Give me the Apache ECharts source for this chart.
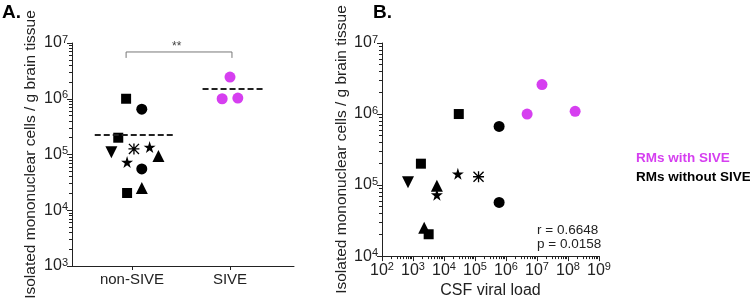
<!DOCTYPE html>
<html>
<head>
<meta charset="utf-8">
<script src="https://cdn.jsdelivr.net/npm/echarts@6/dist/echarts.min.js"></script>
<style>
  html, body { margin: 0; padding: 0; background: #fff; }
  #chart { width: 750px; height: 304px; }
</style>
</head>
<body>
<div id="chart"></div>
<script>
// panel A: cells per g brain tissue, grouped by SIVE status (x = jittered group position)
var groupNames = ['non-SIVE', 'SIVE'];
var nonSiveShape = ['rect', 'circle', 'rect', 'triDown', 'asterisk', 'star', 'triangle', 'star', 'circle', 'triangle', 'rect'];
var nonSiveX = [0.94, 1.10, 0.86, 0.79, 1.02, 1.18, 1.27, 0.95, 1.10, 1.10, 0.95];
var nonSiveCells = [1.0e6, 6.5e5, 2.0e5, 1.1e5, 1.26e5, 1.36e5, 9.4e4, 7.3e4, 5.5e4, 2.5e4, 2.04e4];
var siveX = [2.0, 1.92, 2.08];
var siveCells = [2.45e6, 1.0e6, 1.03e6];
var nonSiveMean = 2.24e5;
var siveMean = 1.5e6;

// panel B: same animals vs CSF viral load
var bNonShape = ['rect', 'circle', 'rect', 'triDown', 'triangle', 'star', 'star', 'asterisk', 'circle', 'triangle', 'rect'];
var bNonLoad = [3.0e4, 6.0e5, 1.8e3, 6.9e2, 5.9e3, 5.9e3, 2.8e4, 1.3e5, 6.0e5, 2.3e3, 3.2e3];
var bNonCells = [1.0e6, 6.7e5, 2.0e5, 1.1e5, 9.8e4, 7.3e4, 1.44e5, 1.31e5, 5.7e4, 2.5e4, 2.03e4];
var bSiveLoad = [4.8e6, 1.45e7, 1.7e8];
var bSiveCells = [1.0e6, 2.6e6, 1.09e6];

var MAGENTA = '#d63ff0';
var FONT = '"Liberation Sans", Arial, sans-serif';

var starPath = 'path://M50 0 L61.2 34.6 L97.6 34.5 L68.1 55.9 L79.4 90.5 L50 69 L20.6 90.5 L31.9 55.9 L2.4 34.5 L38.8 34.6 Z';
var astPath = 'path://M44 0 H56 V100 H44 Z M0 44 H100 V56 H0 Z M8.5 0 L100 91.5 L91.5 100 L0 8.5 Z M91.5 0 L100 8.5 L8.5 100 L0 91.5 Z';
var symbols = {
  rect:     { symbol: 'rect', size: 10, rot: 0 },
  circle:   { symbol: 'circle', size: 11, rot: 0 },
  triangle: { symbol: 'triangle', size: 12, rot: 0 },
  triDown:  { symbol: 'triangle', size: 12, rot: 180 },
  star:     { symbol: starPath, size: 12, rot: 0 },
  asterisk: { symbol: astPath, size: 11, rot: 0 }
};

function shaped(xs, ys, shapes) {
  return xs.map(function (x, i) {
    var s = symbols[shapes[i]];
    return { value: [x, ys[i]], symbol: s.symbol, symbolSize: s.size, symbolRotate: s.rot };
  });
}

function pow10Label(v) {
  var e = Math.round(Math.log(v) / Math.LN10);
  return '{b|10}{s|' + e + '}';
}
var powRich = {
  b: { fontSize: 16, color: '#222', fontFamily: FONT, lineHeight: 18 },
  s: { fontSize: 11, color: '#222', fontFamily: FONT, verticalAlign: 'top', lineHeight: 11 }
};

var axisLine = { show: true, lineStyle: { color: '#222', width: 1 } };

var chart = echarts.init(document.getElementById('chart'));
chart.setOption({
  animation: false,
  backgroundColor: '#fff',
  textStyle: { fontFamily: FONT },
  grid: [
    { left: 72, top: 43, width: 222, height: 223 },
    { left: 382, top: 43, width: 217, height: 215 }
  ],
  xAxis: [
    {
      gridIndex: 0,
      type: 'value',
      min: 0.388,
      max: 2.653,
      splitLine: { show: false },
      axisLine: axisLine,
      axisTick: { show: true, customValues: [1, 2], length: 4, lineStyle: { color: '#222' } },
      axisLabel: {
        customValues: [1, 2],
        margin: 6,
        fontSize: 15,
        color: '#222',
        formatter: function (v) { return groupNames[Math.round(v) - 1]; }
      }
    },
    {
      gridIndex: 1,
      type: 'log',
      logBase: 10,
      min: 1e2,
      max: 1e9,
      splitNumber: 7,
      splitLine: { show: false },
      axisLine: axisLine,
      axisTick: { show: true, length: 5, lineStyle: { color: '#222' } },
      minorTick: { show: true, splitNumber: 9, length: 3, lineStyle: { color: '#222' } },
      axisLabel: { margin: 5, fontSize: 16, formatter: pow10Label, rich: powRich },
      name: 'CSF viral load',
      nameLocation: 'middle',
      nameGap: 25,
      nameTextStyle: { fontSize: 16, color: '#222' }
    }
  ],
  yAxis: [
    {
      gridIndex: 0,
      type: 'log',
      logBase: 10,
      min: 1e3,
      max: 1e7,
      splitNumber: 4,
      splitLine: { show: false },
      axisLine: axisLine,
      axisTick: { show: true, length: 5, lineStyle: { color: '#222' } },
      minorTick: { show: true, splitNumber: 9, length: 3, lineStyle: { color: '#222' } },
      axisLabel: { margin: 4, fontSize: 16, formatter: pow10Label, rich: powRich },
      name: 'Isolated mononuclear cells / g brain tissue',
      nameLocation: 'middle',
      nameGap: 33,
      nameTextStyle: { fontSize: 15.5, color: '#222' }
    },
    {
      gridIndex: 1,
      type: 'log',
      logBase: 10,
      min: 1e4,
      max: 1e7,
      splitNumber: 3,
      splitLine: { show: false },
      axisLine: axisLine,
      axisTick: { show: true, length: 5, lineStyle: { color: '#222' } },
      minorTick: { show: true, splitNumber: 9, length: 3, lineStyle: { color: '#222' } },
      axisLabel: { margin: 4, fontSize: 16, formatter: pow10Label, rich: powRich },
      name: 'Isolated mononuclear cells / g brain tissue',
      nameLocation: 'middle',
      nameGap: 20,
      nameTextStyle: { fontSize: 15.5, color: '#222' }
    }
  ],
  legend: {
    orient: 'vertical',
    left: 636,
    top: 151,
    padding: 0,
    itemWidth: 0,
    itemHeight: 0,
    itemGap: 5,
    selectedMode: false,
    data: [
      { name: 'RMs with SIVE', textStyle: { color: MAGENTA } },
      { name: 'RMs without SIVE', textStyle: { color: '#000' } }
    ],
    textStyle: { fontSize: 13.5, fontWeight: 'bold', fontFamily: FONT, padding: [0, 0, 0, -5] }
  },
  graphic: [
    { type: 'text', left: 2, top: 3, style: { text: 'A.', font: 'bold 19px ' + FONT, fill: '#000' } },
    { type: 'text', left: 373, top: 3, style: { text: 'B.', font: 'bold 19px ' + FONT, fill: '#000' } },
    { type: 'text', left: 172, top: 41, style: { text: '**', font: '12px ' + FONT, fill: '#444' } },
    { type: 'text', left: 537, top: 223, style: { text: 'r = 0.6648', font: '13.5px ' + FONT, fill: '#222' } },
    { type: 'text', left: 537, top: 237, style: { text: 'p = 0.0158', font: '13.5px ' + FONT, fill: '#222' } }
  ],
  series: [
    {
      name: 'bracket',
      type: 'line',
      xAxisIndex: 0, yAxisIndex: 0,
      symbol: 'none',
      silent: true,
      lineStyle: { color: '#777', width: 1 },
      data: [[0.94, 5.4e6], [0.94, 6.9e6], [2.02, 6.9e6], [2.02, 5.4e6]]
    },
    {
      name: 'non-SIVE mean',
      type: 'line',
      xAxisIndex: 0, yAxisIndex: 0,
      symbol: 'none',
      lineStyle: { color: '#222', width: 2, type: [6, 3] },
      data: [[0.62, nonSiveMean], [1.44, nonSiveMean]]
    },
    {
      name: 'SIVE mean',
      type: 'line',
      xAxisIndex: 0, yAxisIndex: 0,
      symbol: 'none',
      lineStyle: { color: '#222', width: 2, type: [6, 3] },
      data: [[1.72, siveMean], [2.34, siveMean]]
    },
    {
      name: 'non-SIVE',
      type: 'scatter',
      xAxisIndex: 0, yAxisIndex: 0,
      itemStyle: { color: '#000', opacity: 1 },
      data: shaped(nonSiveX, nonSiveCells, nonSiveShape)
    },
    {
      name: 'SIVE',
      type: 'scatter',
      xAxisIndex: 0, yAxisIndex: 0,
      symbol: 'circle',
      symbolSize: 11,
      itemStyle: { color: MAGENTA, opacity: 1 },
      data: siveX.map(function (x, i) { return [x, siveCells[i]]; })
    },
    {
      name: 'RMs with SIVE',
      type: 'scatter',
      xAxisIndex: 1, yAxisIndex: 1,
      symbol: 'circle',
      symbolSize: 11,
      itemStyle: { color: MAGENTA, opacity: 1 },
      data: bSiveLoad.map(function (x, i) { return [x, bSiveCells[i]]; })
    },
    {
      name: 'RMs without SIVE',
      type: 'scatter',
      xAxisIndex: 1, yAxisIndex: 1,
      itemStyle: { color: '#000', opacity: 1 },
      data: shaped(bNonLoad, bNonCells, bNonShape)
    }
  ]
});
</script>
</body>
</html>
